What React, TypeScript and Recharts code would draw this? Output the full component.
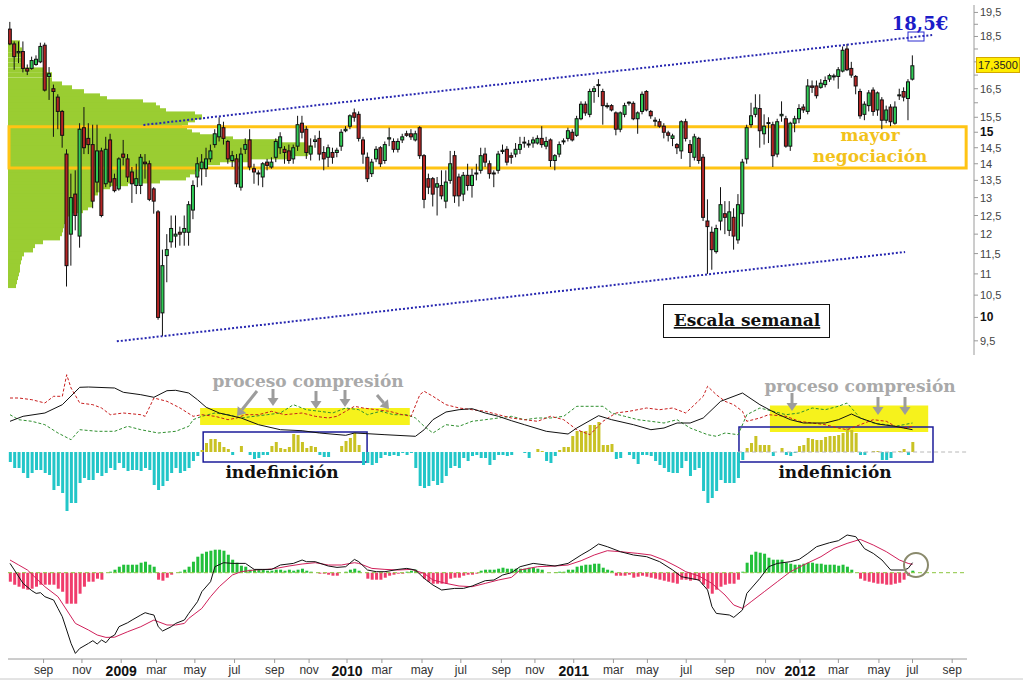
import React from 'react';
import {
  ComposedChart, Bar, Line, XAxis, YAxis, ReferenceLine, ReferenceArea, ReferenceDot, Cell,
} from 'recharts';

// ---------- weekly candles (EUR) ----------
const opens = [
  18.8, 18.2, 17.85, 17.9, 17.25, 17.25, 17.4, 17.5, 18.15, 16.95,
  16.5, 16.2, 15.7, 14.3, 12.0, 13.1, 11.95, 15.15, 14.8, 14.6,
  13.45, 14.4, 13.4, 14.75, 13.55, 13.25, 14.3, 14.15, 13.75, 13.35,
  13.35, 14.05, 14.0, 13.25, 12.6, 10.1, 11.45, 11.8, 11.95, 12.05,
  12.05, 12.05, 12.65, 13.6, 13.85, 13.85, 14.15, 14.6, 14.85, 15.15,
  14.7, 14.1, 14.15, 13.3, 14.45, 14.75, 13.85, 13.7, 13.6, 14.05,
  13.9, 14.2, 14.5, 14.45, 14.4, 14.15, 14.55, 15.3, 15.1, 14.3,
  14.7, 14.8, 14.35, 14.2, 14.35, 14.35, 14.55, 15.05, 15.2, 15.65,
  15.6, 14.75, 14.2, 13.7, 14.15, 14.5, 14.1, 14.78, 14.7, 14.45,
  14.75, 14.95, 14.95, 14.75, 15.15, 14.25, 13.55, 13.55, 13.3, 13.35,
  12.9, 13.5, 14.25, 13.6, 13.1, 13.65, 13.35, 13.7, 13.8, 14.3,
  14.0, 13.72, 13.8, 14.38, 14.45, 14.25, 14.3, 14.45, 14.65, 14.6,
  14.65, 14.65, 14.8, 14.55, 14.75, 14.1, 14.3, 14.7, 14.8, 15.0,
  14.9, 15.45, 15.95, 15.6, 16.4, 16.62, 16.4, 15.88, 15.9, 15.65,
  15.1, 15.6, 16.0, 15.98, 15.45, 15.7, 16.4, 15.7, 15.38, 15.35,
  15.2, 14.98, 14.8, 14.6, 14.4, 15.35, 14.6, 14.2, 14.8, 14.2,
  12.35, 12.05, 11.55, 12.35, 12.55, 12.1, 12.45, 11.85, 12.55, 14.15,
  15.25, 15.6, 15.8, 14.95, 15.3, 15.25, 14.3, 15.55, 15.45, 14.55,
  15.3, 15.45, 15.85, 15.7, 16.6, 16.6, 16.55, 16.65, 16.85, 16.95,
  16.95, 17.15, 18.0, 17.25, 16.95, 16.4, 15.6, 15.9, 16.45, 15.75,
  16.1, 15.4, 15.85, 15.3, 16.25, 16.4, 16.15, 16.85,
];
const highs = [
  19.1, 18.3, 18.3, 18.3, 17.4, 17.7, 17.75, 18.25, 18.25, 17.3,
  16.65, 16.3, 15.75, 14.45, 13.7, 13.8, 15.3, 15.85, 15.3, 15.25,
  15.25, 14.5, 14.85, 14.95, 13.7, 14.2, 14.75, 14.3, 13.9, 14.0,
  14.3, 14.3, 14.1, 13.3, 12.65, 11.6, 12.0, 12.5, 12.5, 12.2,
  12.5, 12.9, 13.5, 14.2, 14.3, 14.5, 14.6, 15.1, 15.5, 15.35,
  14.75, 14.4, 14.3, 14.5, 14.8, 15.1, 14.0, 13.8, 14.05, 14.15,
  14.2, 14.8, 15.0, 14.55, 14.6, 14.6, 15.55, 15.55, 15.2, 14.8,
  14.9, 15.05, 14.55, 14.6, 14.5, 14.5, 15.1, 15.2, 15.6, 15.8,
  15.7, 14.85, 14.35, 14.15, 14.55, 14.55, 14.7, 15.15, 14.8, 14.8,
  14.95, 15.05, 15.1, 15.05, 15.2, 14.3, 13.7, 13.6, 13.6, 13.8,
  13.8, 14.4, 14.4, 13.7, 13.75, 14.0, 13.85, 14.0, 14.5, 14.5,
  14.1, 13.8, 14.4, 14.6, 14.55, 14.35, 14.65, 14.85, 14.85, 14.75,
  14.85, 14.9, 15.2, 14.85, 14.8, 14.3, 14.7, 14.8, 15.15, 15.1,
  15.55, 16.05, 16.05, 16.5, 16.6, 16.85, 16.5, 16.0, 15.95, 15.7,
  15.7, 16.0, 16.05, 16.05, 15.7, 16.4, 16.45, 15.75, 15.5, 15.45,
  15.3, 15.05, 14.95, 14.65, 15.4, 15.45, 14.75, 14.95, 14.85, 14.3,
  12.95, 12.2, 12.25, 13.3, 12.9, 12.9, 12.7, 13.1, 14.15, 15.25,
  16.0, 16.3, 16.3, 15.6, 15.5, 15.35, 15.45, 16.05, 15.55, 15.35,
  15.55, 15.95, 15.95, 16.85, 16.8, 16.8, 16.85, 16.95, 17.05, 17.05,
  17.3, 18.1, 18.2, 17.5, 17.0, 16.5, 16.05, 16.45, 16.55, 16.4,
  16.2, 15.9, 15.95, 16.05, 16.5, 16.55, 16.85, 17.75,
];
const lows = [
  18.15, 17.2, 17.45, 17.1, 17.0, 17.2, 17.35, 17.45, 16.4, 16.1,
  14.85, 15.1, 14.5, 10.7, 11.2, 12.1, 11.65, 14.3, 14.3, 12.7,
  13.15, 12.45, 13.3, 13.3, 13.15, 13.2, 13.95, 13.45, 12.85, 13.1,
  13.1, 13.55, 12.9, 12.55, 9.95, 9.6, 10.8, 11.65, 11.65, 11.7,
  11.7, 11.7, 12.4, 13.3, 13.35, 13.6, 14.05, 14.5, 14.7, 14.6,
  14.0, 13.9, 13.3, 13.2, 14.3, 13.8, 13.4, 13.35, 13.3, 13.8,
  13.85, 14.05, 14.3, 14.0, 14.0, 14.0, 14.4, 14.8, 14.15, 14.1,
  14.5, 14.1, 13.8, 13.9, 14.0, 14.2, 14.4, 15.0, 15.1, 15.35,
  14.7, 14.0, 13.45, 13.6, 14.05, 13.9, 14.0, 14.55, 14.35, 14.35,
  14.65, 14.85, 14.75, 14.7, 14.15, 12.7, 13.1, 12.75, 12.5, 12.95,
  12.7, 13.4, 12.85, 12.75, 12.9, 13.2, 13.0, 13.5, 13.7, 13.9,
  13.55, 13.3, 13.7, 14.3, 13.95, 14.0, 14.2, 14.3, 14.5, 14.5,
  14.5, 14.6, 14.5, 14.45, 13.9, 13.8, 14.2, 14.6, 14.7, 14.7,
  14.85, 15.4, 15.55, 15.5, 16.0, 16.2, 15.25, 15.8, 15.7, 14.9,
  15.0, 15.5, 15.9, 15.4, 14.95, 15.6, 15.7, 15.45, 15.2, 15.15,
  14.8, 14.7, 14.55, 14.3, 14.15, 14.7, 13.9, 14.1, 14.0, 12.35,
  11.0, 11.1, 11.5, 12.1, 12.0, 11.95, 11.6, 11.75, 12.2, 14.0,
  15.15, 15.5, 14.5, 14.6, 14.65, 13.9, 14.2, 15.35, 14.5, 14.4,
  15.0, 15.3, 15.65, 15.6, 16.35, 16.15, 16.5, 16.55, 16.75, 16.8,
  16.5, 17.1, 17.15, 16.9, 16.3, 15.45, 15.4, 15.7, 15.55, 15.55,
  15.1, 15.3, 15.2, 15.25, 16.1, 16.05, 15.4, 16.8,
];
const closes = [
  18.2, 17.7, 17.9, 17.25, 17.15, 17.55, 17.6, 18.1, 16.45, 17.05,
  16.4, 15.7, 14.9, 11.2, 13.0, 12.5, 15.1, 14.5, 14.6, 12.9,
  14.4, 12.5, 14.45, 13.45, 13.2, 14.15, 14.2, 13.6, 13.4, 13.55,
  14.2, 14.0, 12.95, 12.9, 10.0, 11.2, 11.6, 12.15, 12.0, 12.0,
  12.15, 12.8, 13.35, 14.0, 14.05, 14.15, 14.4, 14.95, 15.25, 14.8,
  14.15, 14.25, 13.4, 14.3, 14.6, 13.9, 13.75, 13.72, 14.0, 13.95,
  14.05, 14.7, 14.85, 14.35, 14.1, 14.5, 15.25, 15.0, 14.35, 14.55,
  14.75, 14.3, 14.15, 14.5, 14.2, 14.42, 15.0, 15.1, 15.55, 15.5,
  14.8, 14.3, 13.55, 14.05, 14.45, 14.0, 14.6, 14.82, 14.45, 14.7,
  14.85, 14.9, 14.85, 14.95, 14.25, 12.95, 13.3, 13.1, 13.4, 13.05,
  13.45, 14.0, 13.05, 13.05, 13.65, 13.35, 13.65, 13.72, 14.25, 14.05,
  13.7, 13.7, 14.3, 14.42, 14.05, 14.2, 14.45, 14.6, 14.68, 14.62,
  14.75, 14.8, 14.6, 14.7, 14.1, 14.25, 14.6, 14.72, 15.05, 14.75,
  15.45, 15.95, 15.65, 16.4, 16.5, 16.65, 15.9, 15.9, 15.75, 15.1,
  15.65, 15.9, 16.02, 15.45, 15.65, 16.3, 15.75, 15.55, 15.4, 15.2,
  15.0, 14.9, 14.88, 14.5, 15.35, 14.8, 14.35, 14.85, 14.1, 12.45,
  12.2, 11.6, 12.15, 12.8, 12.45, 12.6, 11.95, 12.8, 14.05, 15.15,
  15.55, 15.82, 15.05, 15.2, 15.32, 14.25, 15.35, 15.6, 14.55, 15.3,
  15.45, 15.8, 15.75, 16.6, 16.55, 16.25, 16.7, 16.8, 16.98, 16.97,
  17.2, 17.95, 17.2, 17.0, 16.6, 15.55, 15.95, 16.35, 15.7, 16.35,
  15.4, 15.75, 15.35, 15.85, 16.28, 16.2, 16.75, 17.35,
];
const lastPrice = 17.35;

// ---------- volume-at-price profile (price level -> traded volume) ----------
const profilePrices = [
  18.24, 18.12, 17.96, 17.77, 17.57, 17.38, 17.19, 17.01, 16.82, 16.67,
  16.53, 16.39, 16.24, 16.14, 16.03, 15.92, 15.82, 15.72, 15.61, 15.51,
  15.41, 15.31, 15.21, 15.11, 15.01, 14.91, 14.85, 14.78, 14.69, 14.59,
  14.49, 14.4, 14.31, 14.21, 14.12, 14.03, 13.93, 13.84, 13.75, 13.66,
  13.57, 13.48, 13.4, 13.31, 13.22, 13.13, 13.05, 12.96, 12.88, 12.79,
  12.71, 12.63, 12.54, 12.44, 12.33, 12.22, 12.11, 12.01, 11.9, 11.8,
  11.7, 11.59, 11.49, 11.39, 11.29, 11.2, 11.09, 11.0, 10.91, 10.81,
  10.72,
];
const profileVolumes = [
  12, 12, 14, 14, 15, 16, 36, 44, 44, 54,
  64, 76, 92, 99, 135, 148, 152, 158, 187, 194,
  187, 180, 174, 179, 184, 192, 205, 225, 270, 300,
  305, 305, 300, 282, 240, 212, 198, 192, 187, 182,
  178, 152, 120, 102, 95, 90, 86, 85, 85, 85,
  80, 75, 62, 59, 57, 56, 55, 54, 52, 35,
  27, 25, 16, 14, 13, 12, 12, 11, 10, 9,
  8,
];

// ---------- directional oscillator (middle panel) ----------
const dmiHist = [
  -10, -16, -16, -21, -26, -21, -18, -18, -21, -23, -38, -34, -41, -59, -51, -51, -31, -26, -28, -28,
  -21, -24, -21, -16, -18, -11, -16, -19, -18, -18, -19, -16, -18, -33, -38, -34, -29, -21, -16, -21,
  -19, -16, -9, -4,
  2, 9, 13, 13, 10, 5, 3, -3, 0, 6, 0, -3, -7, -6, -3, -3, 6, 10, 4, 3,
  5, 18, 17, 10, 4, 6, 5, -3, -5, -5, 0, 0, 6, 11, 14, 19, 7, -13, -11, -13,
  -11, -6, -3, -4, -3, -4, -1, -3,
  -1, -16, -34, -36, -34, -29, -33, -31, -24, -16, -14, -16, -6, -9, -4, -3, -6, -6, -13, -8,
  -3, -3, -4,
  -3, 0, 0, -1, -6, 0, 3, 1, -9, -11, -4, 2, 5, 5, 16, 21, 21, 21, 27, 27,
  30, 7, 7, 8, -7, -6, 0, -3, -7, -12, -3, -3, -4, -9, -13, -16, -20, -21, -21, -16,
  -9, -24, -18, -16, -39, -51, -46, -39, -28, -31, -31, -31, -26, -8, 4, 9, 16, 7, 7, 7,
  -4, 0, 4, -3, -4, -1, 6, 7, 14, 13, 12, 12, 15, 16, 16, 17, 19, 24, 22, 19,
  -3, -3, 0, 1, 1, -8, -8, -6, 0, 1, 3, -3, 10,
];
const dmiAdx: [number, number][] = [
  [0, 30.7], [3, 35.7], [8, 39], [12, 47.3], [16, 64.7], [18, 65], [24, 64], [26, 59.7], [30, 57.3], [33, 54.7],
  [36, 61.3], [38, 61.7], [41, 59], [43, 52.3], [45, 44.7], [48, 39], [53, 34], [57, 27.3], [62, 22.3], [67, 21.3],
  [71, 19], [77, 16.7], [79, 19], [82, 18.3], [86, 17.3], [93, 15.7], [95, 22.3], [97, 32.3], [100, 40], [103, 42.3],
  [106, 43.3], [109, 39], [112, 35.7], [115, 31.3], [118, 27.3], [123, 20.7], [128, 18], [130, 24], [135, 36.3], [138, 32.3],
  [143, 27.3], [147, 22.3], [150, 24], [153, 29], [156, 29], [159, 34], [163, 50.7], [168, 59], [172, 47.3], [176, 38],
  [179, 32.3], [182, 29], [187, 29], [190, 32.3], [193, 38], [195, 34], [199, 28], [203, 25.7], [207, 22.3],
];
const dmiMinus: [number, number][] = [
  [0, 54], [2, 54], [5, 52.3], [8, 49], [10, 55.7], [12, 55.7], [13, 77.3], [14, 64], [16, 49], [19, 47.3],
  [21, 44], [23, 37.3], [26, 39], [30, 37.3], [31, 35.7], [33, 54], [36, 50.7], [39, 44], [42, 35.7], [44, 37.3],
  [47, 35.7], [50, 32.3], [52, 34], [54, 37.3], [57, 37.3], [60, 40.7], [63, 37.3], [67, 39], [70, 35.7], [73, 34],
  [75, 35.7], [79, 45.7], [81, 44], [84, 42.3], [87, 40.7], [90, 37.3], [92, 35.7], [94, 57.3], [95, 60.7], [97, 55.7],
  [100, 47.3], [103, 44], [106, 42.3], [109, 40.7], [112, 37.3], [115, 34], [118, 32.3], [121, 30.7], [124, 35.7], [127, 32.3],
  [130, 22.3], [133, 17.3], [136, 30.7], [139, 39], [142, 40.7], [146, 44], [149, 42.3], [152, 44], [155, 39], [157, 47.3],
  [159, 55.7], [160, 65.7], [162, 57.3], [164, 50.7], [166, 47.3], [168, 40.7], [169, 30.7], [172, 34], [174, 37.3], [178, 35.7],
  [181, 30.7], [184, 29], [187, 27.3], [190, 24], [192, 22.3], [195, 27.3], [198, 32.3], [201, 30.7], [203, 25.7], [205, 24],
  [207, 25.7],
];
const dmiPlus: [number, number][] = [
  [0, 37.3], [2, 32.3], [5, 30.7], [8, 27.3], [11, 19], [14, 12.3], [16, 22.3], [20, 20.7], [24, 20.7], [27, 25.7],
  [30, 22.3], [34, 19], [38, 20.7], [41, 25.7], [42, 32.3], [44, 35.7], [47, 39], [50, 37.3], [53, 34], [56, 35.7],
  [59, 37.3], [62, 39], [65, 47.3], [68, 42.3], [71, 40.7], [74, 39], [77, 44], [80, 42.3], [82, 37.3], [85, 40.7],
  [88, 37.3], [91, 37.3], [93, 34], [95, 25.7], [97, 19], [100, 27.3], [103, 25.7], [106, 30.7], [109, 32.3], [112, 34],
  [115, 35.7], [118, 32.3], [121, 34], [124, 34], [127, 35.7], [130, 45.7], [134, 45.7], [136, 45.7], [138, 39], [141, 35.7],
  [144, 32.3], [147, 30.7], [150, 29], [153, 32.3], [156, 24], [160, 17.3], [162, 15.7], [164, 19], [167, 17.3], [169, 37.3],
  [172, 44], [175, 40.7], [178, 37.3], [181, 39], [184, 44], [187, 42.3], [190, 45.7], [192, 49], [195, 34], [198, 29],
  [201, 27.3], [203, 25.7], [205, 27.3], [207, 29],
];

// ---------- MACD (bottom panel) ----------
const macdHist = [
  -9, -12, -14, -16, -17, -16, -14, -12, -12, -12, -12, -16, -19, -31, -31, -31, -21, -14, -9, -9,
  -6, -7, 0, 1, 3, 6, 8, 8, 8, 8, 10, 11, 8, 6, -7, -8, -5, -2, 0, 1,
  3, 6, 11, 16, 19, 21, 22, 23, 23, 22, 18, 13, 10, 7, 6, 3, 3, 3, 3, 2,
  2, 3, 3, 2, 3, 2, 3, 4, 2, 1, 0, -1, -1, -2, -3, -3, 0, 1, 3, 4,
  2, 0, -6, -7, -7, -7, -5, -3, -2, -1, -1, 1, 2, 3, -1, -6, -9, -11, -11, -11,
  -11, -6, -5, -5, -3, -2, -2, -1, 2, 3, 3, 3, 4, 5, 4,
  4, 4, 4, 4, 5, 5, 4, 3, 0, 0, 0.5, 1, 1, 3, 3, 6, 7, 8, 8, 9,
  9, 5, 3, 2, -3, -3, -3, -2, -5, -4, -3, -4, -5, -6, -7, -8, -9, -10, -11, -7,
  -7, -8, -7, -8, -12, -16, -21, -17, -14, -12, -11, -11, -7, 1, 10, 18, 21, 20, 19, 15,
  13, 13, 13, 10, 9, 8, 8, 9, 10, 10, 9, 9, 8, 8, 8, 7, 8, 6, 3, 0,
  -6, -8, -9, -10, -11, -11, -12, -12, -11, -10, -7, -3, 2,
];
const macdLine: [number, number][] = [
  [0, 9.3], [1, 2.7], [3, -10.7], [5, -18], [6, -20.7], [7, -20], [8, -24], [10, -27.3], [11, -35.7], [12, -44],
  [13, -57.3], [14, -70.7], [15, -80.7], [16, -75.7], [18, -70.7], [19, -68], [20, -71.3], [21, -67.3], [22, -70], [23, -64.7],
  [24, -62.3], [25, -54], [27, -50], [28, -47.3], [30, -42.3], [31, -40], [32, -41.3], [33, -42.3], [34, -54], [35, -58.3],
  [37, -54], [38, -50.7], [40, -47.3], [41, -40.7], [43, -29], [44, -19], [46, -9], [47, 6], [49, 10], [51, 9.3],
  [54, 9.3], [56, 3.3], [58, 3.3], [60, 3.3], [62, 7.7], [65, 9.3], [67, 12.7], [68, 11], [70, 11], [73, 6.7],
  [75, 5.3], [77, 6], [79, 13.3], [80, 11], [82, 2.7], [84, 1], [86, 1], [89, 3.3], [91, 4.3], [93, 2.7],
  [95, -5.7], [97, -12.3], [99, -17.3], [102, -15.7], [104, -15.7], [106, -13.3], [109, -8], [111, -7.3], [113, -2.3], [115, 0],
  [117, 6], [120, 9.3], [123, 7.7], [125, 6.7], [128, 9.3], [131, 17.7], [133, 22.7], [135, 28.7], [137, 26], [140, 21],
  [143, 17.7], [146, 16], [149, 11], [152, 2.7], [154, -4], [156, -5.7], [158, -7.3], [160, -17.3], [161, -34], [162, -40.7],
  [165, -42.3], [166, -44.7], [168, -37.3], [169, -20.7], [172, -5.7], [174, 6], [176, 9.3], [179, 11], [181, 13.3], [183, 19.3],
  [185, 26], [188, 30], [190, 32], [192, 37.7], [194, 36], [196, 24], [198, 19.3], [200, 12.7], [202, 2.7], [205, 2.7],
  [206, 4.3], [207, 10],
];
const macdSignal: [number, number][] = [
  [0, 12.7], [2, 7.7], [4, 2.7], [6, -5.7], [8, -14], [11, -24], [13, -37.3], [15, -50.7], [18, -57.3], [20, -62.3],
  [22, -64.7], [24, -64.5], [27, -59], [30, -54], [33, -47.3], [34, -49], [36, -52.3], [38, -52.3], [40, -50.7], [41, -45.7],
  [44, -35.7], [46, -24], [48, -14], [51, -2.3], [53, 1], [56, 2.7], [59, 3.3], [61, 4.3], [64, 6.7], [67, 8.7],
  [70, 10], [73, 7.7], [76, 7.7], [79, 10], [80, 9.3], [83, 4.3], [86, 3.3], [89, 2.7], [92, 3.3], [95, -0.7],
  [97, -7.3], [100, -10.7], [103, -13.3], [106, -14], [109, -10.7], [112, -7.3], [115, -4.7], [117, 2.7], [121, 6], [125, 6.7],
  [128, 7.7], [131, 12], [134, 17.7], [137, 22], [140, 21], [144, 19.3], [147, 17.7], [150, 12.7], [153, 6], [155, 1],
  [158, -3.3], [161, -10.7], [164, -22.3], [166, -32.3], [168, -35.7], [170, -29], [173, -19], [176, -9], [179, 1], [182, 7.7],
  [186, 16], [189, 24.3], [192, 29.3], [195, 33.3], [198, 27.7], [201, 21], [204, 12.7], [206, 9.3], [207, 8.3],
];

// ---------- axes ----------
const monthTickWeeks = [
  7.7, 16.5, 25.5, 33.6, 42.4, 51.5, 60.7, 68.6, 77.3, 85.3, 94.5, 103.4, 112.7,
  120.4, 129.3, 138.4, 146.2, 155.1, 164.0, 173.3, 181.2, 190.0, 199.3, 207.0, 216.1,
];
const monthTickLabels = [
  'sep', 'nov', '2009', 'mar', 'may', 'jul', 'sep', 'nov', '2010', 'mar', 'may', 'jul', 'sep',
  'nov', '2011', 'mar', 'may', 'jul', 'sep', 'nov', '2012', 'mar', 'may', 'jul', 'sep',
];
const priceTicks = [9.5, 10, 10.5, 11, 11.5, 12, 12.5, 13, 13.5, 14, 14.5, 15, 15.5, 16, 16.5, 17, 17.5, 18, 18.5, 19, 19.5];
const unlabeledPriceTicks = [16, 17, 17.5, 18, 19];
const boldPriceTicks = [10, 15];

// ---------- layout constants ----------
const W = 1023;
const X_MIN = -0.46;
const X_MAX_PRICE = 221.1;
const X_MAX = 219.5;
const P_MIN = 9.21;
const P_MAX = 19.82;
const SERIF = "'DejaVu Serif', 'Liberation Serif', serif";
const SANS = "'Liberation Sans', Arial, sans-serif";

const weeks = opens.map((_, i) => i);
const priceRows = weeks.map((i) => ({
  i, o: opens[i], h: highs[i], l: lows[i], c: closes[i], range: [lows[i], highs[i]],
}));
const profileRows = profilePrices.map((p, k) => ({ p, w: profileVolumes[k] }));

const dmiRows: any[] = weeks.map((i) => ({ i, hist: dmiHist[i] }));
dmiAdx.forEach(([w, v]) => { dmiRows[w].adx = v; });
dmiMinus.forEach(([w, v]) => { dmiRows[w].minus = v; });
dmiPlus.forEach(([w, v]) => { dmiRows[w].plus = v; });

const macdRows: any[] = weeks.map((i) => ({ i, hist: macdHist[i] }));
macdLine.forEach(([w, v]) => { macdRows[w].macd = v; });
macdSignal.forEach(([w, v]) => { macdRows[w].signal = v; });

const Candle = (props: any) => {
  const { x, y, width, height, payload } = props;
  if (x == null || y == null || !payload) return null;
  const cx = x + width / 2;
  const top = Math.min(y, y + height);
  const bot = Math.max(y, y + height);
  const { o, h, l, c } = payload;
  const lh = Math.log(h);
  const span = lh - Math.log(l) || 1;
  const py = (v: number) => top + ((lh - Math.log(v)) / span) * (bot - top);
  const yo = py(o);
  const yc = py(c);
  const bTop = Math.min(yo, yc);
  const bH = Math.max(1, Math.abs(yo - yc));
  const up = c >= o;
  return (
    <g>
      <line x1={cx} x2={cx} y1={top} y2={bot} stroke="#111" strokeWidth={1} />
      <rect x={cx - 1.5} y={bTop} width={3} height={bH} fill={up ? '#2fcc55' : '#b42424'} stroke="#111" strokeWidth={1} />
    </g>
  );
};

// horizontal profile bar, centred on its price level, fixed thickness
const ProfileBar = (props: any) => {
  const { x, y, width, height } = props;
  if (x == null || y == null || !width) return null;
  const cy = y + height / 2;
  return <rect x={x} y={cy - 2.5} width={Math.max(0, width)} height={5} fill="#9acd32" />;
};

const PriceTick = (props: any) => {
  const { x, y, payload } = props;
  const v = payload.value;
  if (unlabeledPriceTicks.includes(v)) return null;
  const bold = boldPriceTicks.includes(v);
  return (
    <text x={x} y={y} dy={4} fontFamily={SANS} fontSize={bold ? 12 : 11} fontWeight={bold ? 'bold' : 'normal'} fill={bold ? '#111' : '#444'}>
      {String(v).replace('.', ',')}
    </text>
  );
};

const MonthTick = (props: any) => {
  const { x, y, index } = props;
  const label = monthTickLabels[index] ?? '';
  const isYear = /^\d{4}$/.test(label);
  return (
    <text x={x} y={y} dy={isYear ? 11 : 9} textAnchor="middle" fontFamily={SANS} fontSize={isYear ? 14 : 12}
      fontWeight={isYear ? 'bold' : 'normal'} fill={isYear ? '#111' : '#333'}>
      {label}
    </text>
  );
};

const Arrow = ({ x1, y1, x2, y2 }: { x1: number; y1: number; x2: number; y2: number }) => {
  const dx = x2 - x1;
  const dy = y2 - y1;
  const len = Math.hypot(dx, dy);
  const ux = dx / len;
  const uy = dy / len;
  const hl = 8;
  const hw = 5.5;
  const bx = x2 - ux * hl;
  const by = y2 - uy * hl;
  const px = -uy;
  const pyy = ux;
  return (
    <g>
      <line x1={x1} y1={y1} x2={bx} y2={by} stroke="#9c9c9c" strokeWidth={3} />
      <polygon points={`${x2},${y2} ${bx + px * hw},${by + pyy * hw} ${bx - px * hw},${by - pyy * hw}`} fill="#9c9c9c" />
    </g>
  );
};

const arrows = [
  { x1: 257, y1: 391, x2: 237, y2: 416 },
  { x1: 273, y1: 389, x2: 273, y2: 406 },
  { x1: 316, y1: 391, x2: 316, y2: 409 },
  { x1: 345, y1: 390, x2: 345, y2: 407 },
  { x1: 377, y1: 395, x2: 389, y2: 409 },
  { x1: 792, y1: 393, x2: 792, y2: 411 },
  { x1: 878, y1: 397, x2: 878, y2: 415 },
  { x1: 905, y1: 397, x2: 905, y2: 415 },
];

export default function App() {
  return (
    <div style={{ position: 'absolute', left: 0, top: 0, width: W, height: 680, background: '#fff', overflow: 'hidden' }}>
      {/* volume profile */}
      <div style={{ position: 'absolute', left: 0, top: 0 }}>
        <ComposedChart layout="vertical" width={W} height={360} data={profileRows} margin={{ top: 5, right: 49, bottom: 5, left: 8 }}>
          <XAxis type="number" domain={[0, 966]} hide allowDataOverflow />
          <YAxis type="number" dataKey="p" scale="log" domain={[P_MIN, P_MAX]} hide allowDataOverflow reversed />
          <Bar dataKey="w" barSize={5} shape={<ProfileBar />} isAnimationActive={false} />
        </ComposedChart>
      </div>

      {/* price panel */}
      <div style={{ position: 'absolute', left: 0, top: 0 }}>
        <ComposedChart width={W} height={360} data={priceRows} margin={{ top: 5, right: 0, bottom: 5, left: 8 }}>
          <XAxis type="number" dataKey="i" domain={[X_MIN, X_MAX_PRICE]} hide allowDataOverflow />
          <YAxis orientation="right" width={49} scale="log" domain={[P_MIN, P_MAX]} allowDataOverflow
            ticks={priceTicks} interval={0} tick={<PriceTick />} tickSize={4} tickMargin={2}
            axisLine={{ stroke: '#9a9a9a' }} tickLine={{ stroke: '#9a9a9a' }} />
          <ReferenceArea x1={-0.23} x2={219.3} y1={13.87} y2={15.18} fill="none" stroke="#ffc414" strokeWidth={3} ifOverflow="visible" />
          <ReferenceLine segment={[{ x: 30.6, y: 15.24 }, { x: 211.5, y: 18.56 }]} stroke="#2626b0" strokeWidth={2} strokeDasharray="2 2" ifOverflow="visible" />
          <ReferenceLine segment={[{ x: 24.5, y: 9.49 }, { x: 205.3, y: 11.54 }]} stroke="#2626b0" strokeWidth={2} strokeDasharray="2 2" ifOverflow="visible" />
          <Bar dataKey="range" barSize={4} shape={<Candle />} isAnimationActive={false} />
        </ComposedChart>
      </div>

      {/* directional indicator panel */}
      <div style={{ position: 'absolute', left: 0, top: 360 }}>
        <ComposedChart width={W} height={160} data={dmiRows} margin={{ top: 0, right: 56, bottom: 0, left: 8 }}>
          <XAxis type="number" dataKey="i" domain={[X_MIN, X_MAX]} hide allowDataOverflow />
          <YAxis domain={[-68, 92]} hide allowDataOverflow />
          <ReferenceArea x1={43.6} x2={91.7} y1={27} y2={44} fill="#f6f21c" fillOpacity={1} stroke="none" ifOverflow="visible" />
          <ReferenceArea x1={174.3} x2={210.6} y1={20} y2={46.5} fill="#f6f21c" fillOpacity={1} stroke="none" ifOverflow="visible" />
          <ReferenceLine segment={[{ x: 167, y: 0 }, { x: X_MAX, y: 0 }]} stroke="#b8b8b8" strokeDasharray="4 3" />
          <Bar dataKey="hist" barSize={3} isAnimationActive={false}>
            {dmiRows.map((r, k) => (
              <Cell key={k} fill={r.hist >= 0 ? '#c9c224' : '#22c6c8'} />
            ))}
          </Bar>
          <Line dataKey="plus" stroke="#2f8f2f" strokeWidth={1} strokeDasharray="3 2" dot={false} connectNulls isAnimationActive={false} />
          <Line dataKey="minus" stroke="#c81e1e" strokeWidth={1} strokeDasharray="3 2" dot={false} connectNulls isAnimationActive={false} />
          <Line dataKey="adx" stroke="#111" strokeWidth={1} dot={false} connectNulls isAnimationActive={false} />
          <ReferenceArea x1={44.3} x2={81.9} y1={-10} y2={20} fill="none" stroke="#1d1d9a" strokeWidth={1.5} ifOverflow="visible" />
          <ReferenceArea x1={167.2} x2={211.7} y1={-10} y2={25} fill="none" stroke="#1d1d9a" strokeWidth={1.5} ifOverflow="visible" />
        </ComposedChart>
      </div>

      {/* MACD panel */}
      <div style={{ position: 'absolute', left: 0, top: 520 }}>
        <ComposedChart width={W} height={160} data={macdRows} margin={{ top: 0, right: 56, bottom: 0, left: 8 }}>
          <XAxis type="number" dataKey="i" domain={[X_MIN, X_MAX]} allowDataOverflow ticks={monthTickWeeks} interval={0}
            tick={<MonthTick />} tickSize={4} tickMargin={2} height={21}
            axisLine={{ stroke: '#9a9a9a' }} tickLine={{ stroke: '#9a9a9a' }} />
          <YAxis domain={[-86.3, 52.7]} hide allowDataOverflow />
          <ReferenceLine y={0} stroke="#8cc63f" strokeDasharray="4 3" />
          <Bar dataKey="hist" barSize={3} isAnimationActive={false}>
            {macdRows.map((r, k) => (
              <Cell key={k} fill={r.hist >= 0 ? '#22c03a' : '#f03c6c'} />
            ))}
          </Bar>
          <Line dataKey="signal" stroke="#d0205a" strokeWidth={1} dot={false} connectNulls isAnimationActive={false} />
          <Line dataKey="macd" stroke="#111" strokeWidth={1} dot={false} connectNulls isAnimationActive={false} />
          <ReferenceDot x={207.8} y={7.7} r={12} fill="none" stroke="#8a8a6c" strokeWidth={2} ifOverflow="visible" />
        </ComposedChart>
      </div>

      {/* annotations */}
      <svg width={W} height={680} style={{ position: 'absolute', left: 0, top: 0, pointerEvents: 'none' }}>
        <text x={920} y={30} textAnchor="middle" fontFamily={SERIF} fontWeight="bold" fontSize={18} fill="#1c1cc8">18,5€</text>
        <rect x={908} y={32} width={16} height={9} fill="none" stroke="#2b2bd0" strokeWidth={1} />
        <text x={870} y={141} textAnchor="middle" fontFamily={SERIF} fontWeight="bold" fontSize={17} fill="#f2c21b">mayor</text>
        <text x={870} y={162} textAnchor="middle" fontFamily={SERIF} fontWeight="bold" fontSize={17} fill="#f2c21b">negociación</text>
        <rect x={663.5} y={304.5} width={166} height={33} fill="#fff" stroke="#111" strokeWidth={1} />
        <text x={747} y={326} textAnchor="middle" fontFamily={SERIF} fontWeight="bold" fontSize={17} fill="#111" textDecoration="underline">Escala semanal</text>
        <rect x={976.5} y={57.5} width={43} height={15} fill="#ffec00" stroke="#d2a800" strokeWidth={1} />
        <text x={978} y={69} fontFamily={SANS} fontSize={11} fill="#222">{lastPrice.toFixed(4).replace('.', ',')}</text>
        <text x={308} y={387} textAnchor="middle" fontFamily={SERIF} fontWeight="bold" fontSize={17} fill="#a9a9a9">proceso compresión</text>
        <text x={860} y={392} textAnchor="middle" fontFamily={SERIF} fontWeight="bold" fontSize={17} fill="#a9a9a9">proceso compresión</text>
        {arrows.map((a, k) => <Arrow key={k} {...a} />)}
        <text x={282} y={478} textAnchor="middle" fontFamily={SERIF} fontWeight="bold" fontSize={17} fill="#111">indefinición</text>
        <text x={835} y={478} textAnchor="middle" fontFamily={SERIF} fontWeight="bold" fontSize={17} fill="#111">indefinición</text>
        <line x1={0} y1={679} x2={W} y2={679} stroke="#c8c8c8" strokeWidth={1} />
      </svg>
    </div>
  );
}
